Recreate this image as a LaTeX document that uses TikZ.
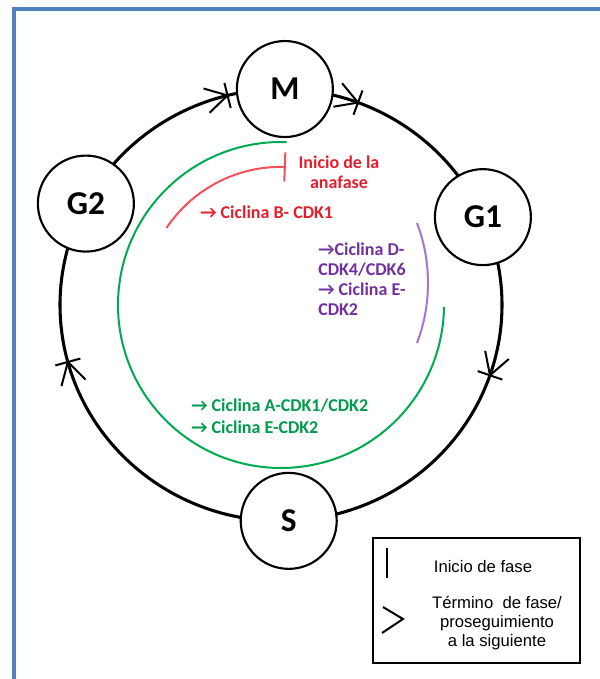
\documentclass[tikz,border=0pt]{standalone}
\usepackage{fontspec}
\setmainfont{Carlito}
\newfontfamily\legfont{Liberation Sans}
\usetikzlibrary{arrows.meta,backgrounds,calc}
\definecolor{frameblue}{RGB}{79,129,189}
\definecolor{redtxt}{RGB}{228,30,45}
\definecolor{redarc}{RGB}{245,80,90}
\definecolor{greentxt}{RGB}{0,155,75}
\definecolor{greenarc}{RGB}{0,170,80}
\definecolor{purpletxt}{RGB}{112,48,160}
\definecolor{purplearc}{RGB}{160,120,210}
\tikzset{
  phase/.style={circle, draw, line width=1.6pt, fill=white, minimum size=72pt, inner sep=0pt,
    font=\bfseries\fontsize{25}{30}\selectfont},
  cyc/.style={line width=2.3pt},
  phasemk/.pic={
    \draw[line width=1.5pt] (0,-13) -- (0,13);
    \draw[line width=1.5pt] (-21.6,12.5) -- (0,0) -- (-21.6,-12.5);
  },
  ctext/.style={font=\bfseries\fontsize{13.5}{15}\selectfont, inner sep=0pt},
  legtext/.style={font=\legfont\fontsize{12.5}{14}\selectfont, inner sep=0pt, align=center},
}
\begin{document}
\begin{tikzpicture}[x=0.75pt,y=0.75pt]
\useasboundingbox (0,0) rectangle (600,679);
% frame
\draw[frameblue, line width=3pt] (14,0) -- (14,670) -- (600,670);
\coordinate (C) at (281,374);
% phase nodes
\node[phase] (M)  at ($(C)+(89:221 and 216)$) {M};
\node[phase] (G1) at ($(C)+(24:221 and 216)$) {G1};
\node[phase] (S)  at ($(C)+(-88:221 and 216)$) {S};
\node[phase] (G2) at ($(C)+(152:221 and 216)$) {G2};
% cycle connectors
\begin{scope}[on background layer]
\draw[cyc] (G2.center) arc[start angle=152, end angle=89, x radius=221, y radius=216];
\draw[cyc] (M.center) arc[start angle=89, end angle=24, x radius=221, y radius=216];
\draw[cyc] (G1.center) arc[start angle=24, end angle=-88, x radius=221, y radius=216];
\draw[cyc] (S.center) arc[start angle=-88, end angle=-208, x radius=221, y radius=216];
\end{scope}
% marks
\foreach \t in {104,69.6,-19,-164.7}{
  \pgfmathsetmacro{\rot}{\t-90}
  \path ($(C)+(\t:221 and 216)$) pic[rotate=\rot]{phasemk};
}
% inner arcs
\coordinate (R0) at ($(C)+(146:138)$);
\draw[redarc, line width=1.5pt, -{Bar[width=22pt]}] (R0) arc[start angle=146, end angle=88, radius=138];
\coordinate (Gr0) at ($(C)+(88:163)$);
\draw[greenarc, line width=1.5pt] (Gr0) arc[start angle=88, end angle=359.3, radius=163];
\coordinate (P0) at (417,456);
\draw[purplearc, line width=1.5pt] (P0) arc[start angle=20.8, end angle=-20.8, radius=169];
% texts
\node[ctext, text=redtxt, align=center] (anaf) at (339,507) {Inicio de la\\anafase};
\node[ctext, text=redtxt, anchor=west] (cycB) at (200,467) {→ Ciclina B- CDK1};
\node[ctext, text=purpletxt, anchor=west, align=left] (cycD) at (318,400)
  {→Ciclina D-\\CDK4/CDK6\\→ Ciclina E-\\CDK2};
\node[ctext, text=greentxt, anchor=west, align=left, font=\bfseries\fontsize{13.5}{16.5}\selectfont] (cycA) at (191,263)
  {→ Ciclina A-CDK1/CDK2\\→ Ciclina E-CDK2};
% legend
\node[draw, line width=1.5pt, minimum width=155.25pt, minimum height=93.75pt, inner sep=0pt] (leg) at (476.5,78.5) {};
\coordinate (lb1) at (387,131);
\coordinate (lb2) at (387,101);
\draw[line width=1.5pt] (lb1) -- (lb2);
\node[legtext] (l1) at (483,112) {Inicio de fase};
\coordinate (lc1) at (383,72);
\coordinate (lc2) at (403,60);
\coordinate (lc3) at (382,46);
\draw[line width=1.5pt] (lc1) -- (lc2) -- (lc3);
\node[legtext] (l2) at (497,56) {Término~ de fase/\\proseguimiento\\a la siguiente};
\end{tikzpicture}
\end{document}
